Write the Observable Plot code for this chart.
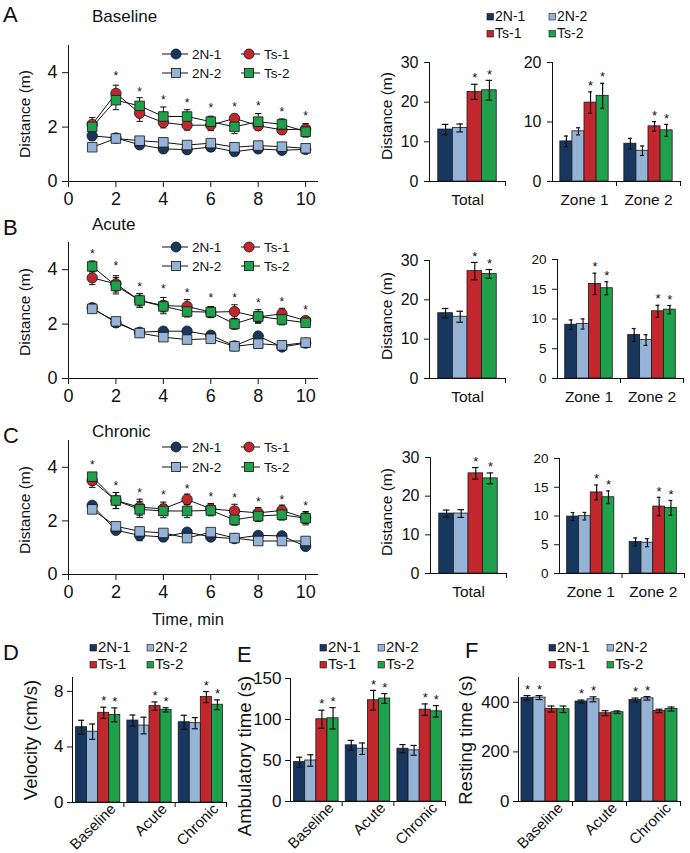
<!DOCTYPE html>
<html><head><meta charset="utf-8">
<script src="https://cdn.jsdelivr.net/npm/d3@7"></script>
<script src="https://cdn.jsdelivr.net/npm/@observablehq/plot@0.6"></script>
<style>
body{margin:0;background:#fff;}
#fig{position:relative;width:690px;height:853px;overflow:hidden;background:#fff;}
</style></head><body><div id="fig"></div>
<script>
// ---------- data ----------
const minutes = [1,2,3,4,5,6,7,8,9,10];
const groups = ["2N-1","2N-2","Ts-1","Ts-2"];
const groupColors = ["#17375e","#95b3d7","#c3272e","#1fa04b"];

// Distance per minute (m), Baseline
const base2N1 = [1.68,1.60,1.35,1.20,1.17,1.27,1.10,1.20,1.15,1.18];
const base2N2 = [1.26,1.58,1.50,1.44,1.34,1.41,1.26,1.32,1.28,1.22];
const baseTs1 = [2.10,3.24,2.51,2.17,2.07,2.07,2.32,2.05,1.90,1.93];
const baseTs2 = [2.01,2.99,2.78,2.39,2.39,2.20,2.01,2.20,2.10,1.83];
const base2N1Err = [0.15,0.15,0.12,0.12,0.08,0.10,0.12,0.08,0.08,0.08];
const base2N2Err = [0.12,0.10,0.08,0.08,0.08,0.08,0.10,0.08,0.08,0.06];
const baseTs1Err = [0.25,0.30,0.30,0.20,0.18,0.20,0.15,0.15,0.15,0.20];
const baseTs2Err = [0.15,0.35,0.30,0.35,0.25,0.20,0.25,0.30,0.20,0.20];
const baseStars = [null,4.00,3.40,3.10,3.00,2.80,2.85,2.87,2.66,2.50];

// Acute
const acute2N1 = [2.60,2.05,1.70,1.74,1.74,1.59,1.20,1.56,1.16,1.30];
const acute2N2 = [2.56,2.10,1.67,1.52,1.43,1.46,1.18,1.28,1.22,1.32];
const acuteTs1 = [3.70,3.48,2.87,2.68,2.65,2.44,2.46,2.26,2.38,2.13];
const acuteTs2 = [4.12,3.41,2.87,2.65,2.46,2.44,2.01,2.28,2.17,2.05];
const acute2N1Err = [0.15,0.15,0.10,0.10,0.10,0.10,0.08,0.12,0.08,0.10];
const acute2N2Err = [0.15,0.12,0.10,0.10,0.12,0.10,0.08,0.15,0.10,0.10];
const acuteTs1Err = [0.25,0.30,0.25,0.30,0.25,0.20,0.25,0.20,0.20,0.12];
const acuteTs2Err = [0.20,0.30,0.25,0.20,0.20,0.20,0.20,0.25,0.20,0.12];
const acuteStars = [4.70,4.23,3.48,3.41,3.26,3.05,3.05,2.89,2.93,2.62];

// Chronic
const chron2N1 = [2.58,1.65,1.46,1.40,1.58,1.40,1.34,1.46,1.44,1.05];
const chron2N2 = [2.43,1.80,1.61,1.55,1.36,1.58,1.36,1.25,1.25,1.25];
const chronTs1 = [3.50,2.76,2.51,2.45,2.80,2.45,2.37,2.30,2.39,2.10];
const chronTs2 = [3.65,2.76,2.43,2.37,2.37,2.39,2.04,2.18,2.23,2.10];
const chron2N1Err = [0.12,0.10,0.20,0.10,0.10,0.08,0.08,0.10,0.10,0.10];
const chron2N2Err = [0.10,0.12,0.10,0.10,0.10,0.10,0.08,0.10,0.10,0.10];
const chronTs1Err = [0.25,0.30,0.30,0.25,0.20,0.20,0.25,0.20,0.20,0.20];
const chronTs2Err = [0.15,0.30,0.30,0.25,0.25,0.20,0.20,0.20,0.20,0.25];
const chronStars = [4.19,3.40,3.13,3.07,3.28,2.98,2.97,2.82,2.88,2.67];

// Total / zone distance (m); rows = groups, cols = categories
const totalCats = ["Total"];
const zoneCats = ["Zone 1","Zone 2"];
const totalBaseVals = [[13.1],[13.5],[22.6],[23.0]];
const totalBaseErr  = [[1.3],[1.0],[1.9],[2.5]];
const zoneBaseVals  = [[6.74,6.35],[8.43,5.17],[13.26,9.27],[14.4,8.6]];
const zoneBaseErr   = [[0.9,0.9],[0.6,0.8],[1.8,0.8],[2.1,1.0]];
const totalAcuteVals = [[16.6],[15.7],[27.3],[26.6]];
const totalAcuteErr  = [[1.2],[1.4],[2.2],[1.1]];
const zoneAcuteVals  = [[9.04,7.3],[9.16,6.46],[15.9,11.3],[15.17,11.57]];
const zoneAcuteErr   = [[0.8,1.1],[0.85,0.9],[1.8,1.0],[1.1,0.7]];
const totalChronVals = [[15.5],[15.5],[25.9],[24.6]];
const totalChronErr  = [[0.9],[1.0],[1.5],[1.4]];
const zoneChronVals  = [[9.9,5.48],[9.97,5.36],[14.1,11.64],[13.26,11.4]];
const zoneChronErr   = [[0.7,0.7],[0.65,0.7],[1.3,1.6],[1.1,1.3]];

// D, E, F
const phases = ["Baseline","Acute","Chronic"];
const velVals = [[5.42,5.90,5.78],[5.10,5.54,5.71],[6.46,6.94,7.59],[6.31,6.67,7.04]];
const velErr  = [[0.50,0.40,0.50],[0.55,0.60,0.40],[0.40,0.30,0.40],[0.50,0.15,0.35]];
const ambVals = [[48,68.5,64.4],[50,64.4,62.4],[100.3,123.5,112],[101.5,125.6,110]];
const ambErr  = [[6,6,5],[7,7,6],[11,12,7],[13,6,7]];
const restVals = [[418,403,409],[419,412,416],[373,356,365],[372,360,373]];
const restErr  = [[9,6,8],[8,10,7],[12,10,7],[13,5,8]];
const starTs = ["Ts-1","Ts-2"];
const star2N = ["2N-1","2N-2"];

// ---------- helpers ----------
const FONT = '"Liberation Sans", Arial, Helvetica, sans-serif';
const INK = "#111";
const fig = document.getElementById("fig");
function place(node, left, top) {
  node.style.position = "absolute"; node.style.left = left + "px"; node.style.top = top + "px";
  fig.appendChild(node);
}
const capSymbol = { draw(ctx, size) { const w = Math.sqrt(size / Math.PI); ctx.moveTo(-w, 0); ctx.lineTo(w, 0); } };
const intFmt = d => String(d);

function lineChart({x0, x1, yTop, yBottom, series, stars}) {
  const ML = 50, MR = 20, MT = 20, MB = 45;
  const rows = [];
  series.forEach(([g, vals, errs]) => vals.forEach((v, i) => rows.push({t: minutes[i], g, v, e: errs[i]})));
  const starRows = minutes.map((t, i) => ({t, y: stars[i]})).filter(d => d.y != null);
  const circles = rows.filter(d => d.g === "2N-1" || d.g === "Ts-1");
  const squares = rows.filter(d => d.g === "2N-2" || d.g === "Ts-2");
  const svg = Plot.plot({
    width: ML + (x1 - x0) + MR, height: MT + (yBottom - yTop) + MB,
    marginLeft: ML, marginRight: MR, marginTop: MT, marginBottom: MB,
    style: {fontFamily: FONT, fontSize: "18px", color: INK, background: "transparent", overflow: "visible"},
    x: {domain: [0, 10.5], ticks: [0,2,4,6,8,10], tickFormat: intFmt, line: true, label: null, tickSize: 6, tickPadding: 5},
    y: {domain: [0, 5], ticks: [0,2,4], tickFormat: intFmt, line: true, label: null, tickSize: 6, tickPadding: 5},
    color: {domain: groups, range: groupColors},
    symbol: {domain: groups, range: ["circle","square","circle","square"]},
    marks: [
      Plot.line(rows, {x: "t", y: "v", z: "g", stroke: INK, strokeWidth: 1}),
      Plot.ruleX(rows, {x: "t", y1: d => d.v - d.e, y2: d => d.v + d.e, stroke: INK, strokeWidth: 1}),
      Plot.dot(rows, {x: "t", y: d => d.v + d.e, symbol: capSymbol, r: 3.2, fill: "none", stroke: INK, strokeWidth: 1}),
      Plot.dot(rows, {x: "t", y: d => d.v - d.e, symbol: capSymbol, r: 3.2, fill: "none", stroke: INK, strokeWidth: 1}),
      Plot.dot(circles, {x: "t", y: "v", fill: "g", symbol: "g", r: 5.2, stroke: INK, strokeWidth: 0.8}),
      Plot.dot(squares, {x: "t", y: "v", fill: "g", symbol: "g", r: 5.4, stroke: INK, strokeWidth: 0.8}),
      Plot.text(starRows, {x: "t", y: "y", text: () => "*", fontSize: 12, dy: 3, fill: INK})
    ]
  });
  place(svg, x0 - ML, yTop - MT);
}

function barChart({x0, x1, yTop, yBottom, cats, vals, errs, max, ticks, tickFont, catFont, rotate, starGroups, po, tickPad, catPad, capInset, catShift}) {
  const ML = 50, MR = 12, MT = 20, MB = rotate ? 80 : 40;
  const rows = [];
  cats.forEach((c, ci) => groups.forEach((g, gi) =>
    rows.push({cat: c, g, v: vals[gi][ci], e: errs[gi][ci], star: starGroups.includes(g)})));
  const W = x1 - x0, H = yBottom - yTop;
  const fw = W / cats.length, step = fw / (4 + 2 * po);
  const svg = Plot.plot({
    width: ML + W + MR, height: MT + H + MB,
    marginLeft: ML, marginRight: MR, marginTop: MT, marginBottom: MB,
    style: {fontFamily: FONT, fontSize: tickFont + "px", color: INK, background: "transparent", overflow: "visible"},
    facet: {data: rows, x: "cat"},
    fx: {domain: cats, padding: 0, axis: "bottom", label: null, tickSize: 0, tickPadding: catPad, tickRotate: rotate || 0, round: false},
    x: {domain: groups, axis: null, paddingInner: 0, paddingOuter: po, round: false},
    y: {domain: [0, max], ticks, tickFormat: intFmt, line: true, label: null, tickSize: 5, tickPadding: tickPad},
    color: {domain: groups, range: groupColors},
    marks: [
      Plot.barY(rows, {x: "g", y: "v", fill: "g", stroke: "#1a1a1a", strokeWidth: 0.8}),
      Plot.ruleX(rows, {x: "g", y1: d => d.v - d.e, y2: d => d.v + d.e, stroke: INK, strokeWidth: 1.2}),
      Plot.tickY(rows, {x: "g", y: d => d.v + d.e, stroke: INK, strokeWidth: 1.2, inset: capInset}),
      Plot.tickY(rows, {x: "g", y: d => d.v - d.e, stroke: INK, strokeWidth: 1.2, inset: capInset}),
      Plot.text(rows, {filter: d => d.star, x: "g", y: d => d.v + d.e, text: () => "*", dy: -6, fontSize: 13, fill: INK}),
      Plot.ruleY([0], {stroke: INK, strokeWidth: 1}),
      Plot.ruleX([0], {x: () => "Ts-2", y1: 0, y2: -max * 5 / H, dx: step / 2 + po * step, stroke: INK, strokeWidth: 1})
    ]
  });
  svg.querySelectorAll('[aria-label^="fx-axis"] text').forEach(t => {
    t.style.fontSize = catFont + "px";
    if (catShift) t.setAttribute("transform", `translate(${catShift[0]},${catShift[1]}) ` + (t.getAttribute("transform") || ""));
  });
  place(svg, x0 - ML, yTop - MT);
}

// ---------- panels A-C ----------
lineChart({x0: 68, x1: 317, yTop: 45, yBottom: 181, stars: baseStars,
  series: [["2N-1", base2N1, base2N1Err], ["Ts-1", baseTs1, baseTs1Err], ["2N-2", base2N2, base2N2Err], ["Ts-2", baseTs2, baseTs2Err]]});
lineChart({x0: 68, x1: 317, yTop: 242, yBottom: 378, stars: acuteStars,
  series: [["2N-1", acute2N1, acute2N1Err], ["Ts-1", acuteTs1, acuteTs1Err], ["2N-2", acute2N2, acute2N2Err], ["Ts-2", acuteTs2, acuteTs2Err]]});
lineChart({x0: 68, x1: 317, yTop: 440, yBottom: 574, stars: chronStars,
  series: [["2N-1", chron2N1, chron2N1Err], ["Ts-1", chronTs1, chronTs1Err], ["2N-2", chron2N2, chron2N2Err], ["Ts-2", chronTs2, chronTs2Err]]});

const distOpts = {tickFont: 16, catFont: 15.5, starGroups: starTs, tickPad: 6, catPad: 12, capInset: 4};
barChart({...distOpts, x0: 429, x1: 505, yTop: 62, yBottom: 181, cats: totalCats, vals: totalBaseVals, errs: totalBaseErr, max: 30, ticks: [0,10,20,30], po: 0.6});
barChart({...distOpts, x0: 552, x1: 680, yTop: 62, yBottom: 181, cats: zoneCats, vals: zoneBaseVals, errs: zoneBaseErr, max: 20, ticks: [0,10,20], po: 0.65});
barChart({...distOpts, x0: 429, x1: 505, yTop: 260, yBottom: 378, cats: totalCats, vals: totalAcuteVals, errs: totalAcuteErr, max: 30, ticks: [0,10,20,30], po: 0.6});
barChart({...distOpts, tickFont: 13.5, x0: 557, x1: 683, yTop: 259, yBottom: 378, cats: zoneCats, vals: zoneAcuteVals, errs: zoneAcuteErr, max: 20, ticks: [0,5,10,15,20], po: 0.65});
barChart({...distOpts, x0: 430, x1: 506, yTop: 457, yBottom: 573, cats: totalCats, vals: totalChronVals, errs: totalChronErr, max: 30, ticks: [0,10,20,30], po: 0.6});
barChart({...distOpts, tickFont: 13.5, x0: 559, x1: 684, yTop: 458, yBottom: 573, cats: zoneCats, vals: zoneChronVals, errs: zoneChronErr, max: 20, ticks: [0,5,10,15,20], po: 0.65});

// ---------- panels D-F ----------
const defOpts = {tickFont: 17, catFont: 15, rotate: -45, tickPad: 4, catPad: 6, capInset: 2.5, po: 0.32, cats: phases, catShift: [15, -2]};
barChart({...defOpts, x0: 72, x1: 226, yTop: 677, yBottom: 802, vals: velVals, errs: velErr, max: 9, ticks: [0,4,8], starGroups: starTs});
barChart({...defOpts, x0: 290, x1: 445, yTop: 678, yBottom: 801, vals: ambVals, errs: ambErr, max: 150, ticks: [0,50,100,150], starGroups: starTs});
barChart({...defOpts, x0: 518, x1: 680, yTop: 677, yBottom: 801, vals: restVals, errs: restErr, max: 500, ticks: [0,200,400], starGroups: star2N, po: 0.25});

// ---------- overlay text & legends ----------
const NS = "http://www.w3.org/2000/svg";
const ov = document.createElementNS(NS, "svg");
ov.setAttribute("width", 690); ov.setAttribute("height", 853);
ov.style.position = "absolute"; ov.style.left = "0px"; ov.style.top = "0px";
ov.style.fontFamily = FONT;
fig.appendChild(ov);
function el(tag, attrs) { const e = document.createElementNS(NS, tag); for (const k in attrs) e.setAttribute(k, attrs[k]); ov.appendChild(e); return e; }
function T(txt, x, y, size, opts = {}) {
  const e = el("text", {x: 0, y: 0, "font-size": size, fill: INK, "text-anchor": opts.anchor || "start",
    transform: `translate(${x},${y})` + (opts.rotate ? ` rotate(${opts.rotate})` : "")});
  if (opts.middle) e.setAttribute("dy", "0.35em");
  e.textContent = txt; return e;
}
// panel letters and titles
T("A", 3, 22, 22); T("Baseline", 92, 22, 17);
T("B", 3, 235, 22); T("Acute", 92, 230, 17);
T("C", 3, 443, 22); T("Chronic", 92, 437, 17);
T("D", 3, 660, 22); T("E", 237, 662, 22); T("F", 465, 658, 22);
// axis titles
T("Distance (m)", 25, 114, 15.5, {anchor: "middle", rotate: -90, middle: true});
T("Distance (m)", 25, 312, 15.5, {anchor: "middle", rotate: -90, middle: true});
T("Distance (m)", 25, 510, 15.5, {anchor: "middle", rotate: -90, middle: true});
T("Time, min", 188, 625, 16.5, {anchor: "middle"});
T("Distance (m)", 387, 116, 15.5, {anchor: "middle", rotate: -90, middle: true});
T("Distance (m)", 387, 316, 15.5, {anchor: "middle", rotate: -90, middle: true});
T("Distance (m)", 387, 512, 15.5, {anchor: "middle", rotate: -90, middle: true});
T("Velocity (cm/s)", 31, 740, 18.5, {anchor: "middle", rotate: -90, middle: true});
T("Ambulatory time (s)", 245, 756, 18.5, {anchor: "middle", rotate: -90, middle: true});
T("Resting time (s)", 466, 740, 18.5, {anchor: "middle", rotate: -90, middle: true});

// line-chart legends
function lineLegend(y1, y2) {
  const items = [["2N-1", 162, y1, "circle"], ["Ts-1", 241, y1, "circle"], ["2N-2", 162, y2, "square"], ["Ts-2", 241, y2, "square"]];
  items.forEach(([g, x, y, shape]) => {
    const len = g.startsWith("2N") ? 26 : 19;
    const c = groupColors[groups.indexOf(g)];
    el("line", {x1: x, x2: x + len, y1: y, y2: y, stroke: INK, "stroke-width": 1});
    const cx = x + (g.startsWith("2N") ? 14 : 8);
    if (shape === "circle") el("circle", {cx, cy: y, r: 5, fill: c, stroke: INK, "stroke-width": 0.8});
    else el("rect", {x: cx - 4.5, y: y - 4.5, width: 9, height: 9, fill: c, stroke: INK, "stroke-width": 0.8});
    T(g, x + len + 4, y + 5, 13.5);
  });
}
lineLegend(54, 73); lineLegend(247, 266); lineLegend(447, 467);

// bar legends
function barLegend(xA, xB, y1, y2, size, box) {
  [["2N-1", xA, y1], ["2N-2", xB, y1], ["Ts-1", xA, y2], ["Ts-2", xB, y2]].forEach(([g, x, y]) => {
    el("rect", {x, y: y - box, width: box, height: box, fill: groupColors[groups.indexOf(g)], stroke: INK, "stroke-width": 0.6});
    T(g, x + box + 1.5, y + 0.5, size);
  });
}
barLegend(487, 549, 20, 37, 14, 6.5);
barLegend(90, 147, 651, 668, 15, 6.5);
barLegend(320, 378, 651, 668, 15, 6.5);
barLegend(549, 607, 651, 668, 15, 6.5);
</script></body></html>
